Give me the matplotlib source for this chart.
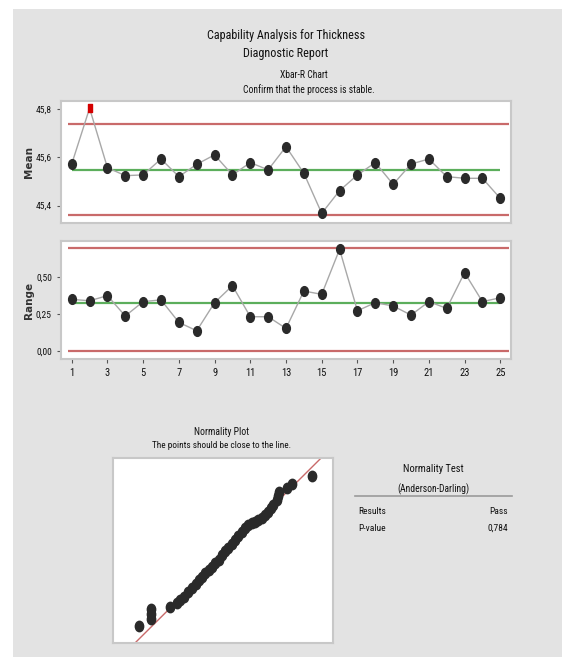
import matplotlib
matplotlib.use("Agg")
import matplotlib.pyplot as plt
from matplotlib.path import Path
from matplotlib.patches import Rectangle
from matplotlib.lines import Line2D

# subgroup data
subgroups = list(range(1, 26))
means = [45.572, 45.803, 45.557, 45.524, 45.527, 45.593, 45.520, 45.571, 45.610, 45.527,
         45.578, 45.548, 45.644, 45.534, 45.368, 45.462, 45.527, 45.578, 45.488, 45.572,
         45.593, 45.520, 45.513, 45.513, 45.430]
ranges = [0.348, 0.339, 0.373, 0.237, 0.333, 0.345, 0.194, 0.138, 0.326, 0.440,
          0.232, 0.232, 0.154, 0.404, 0.382, 0.683, 0.272, 0.326, 0.304, 0.243,
          0.333, 0.288, 0.527, 0.333, 0.359]
mean_cl, mean_ucl, mean_lcl = 45.548, 45.737, 45.360
range_cl, range_ucl, range_lcl = 0.326, 0.694, 0.0
out_of_control = [2]

# normality plot points (thickness, normal score)
norm_x = [45.142, 45.198, 45.198, 45.198, 45.285,
          45.316, 45.330, 45.346, 45.366, 45.384, 45.400, 45.415, 45.430, 45.445, 45.460,
          45.475, 45.490, 45.505, 45.520, 45.534, 45.549, 45.565, 45.580, 45.595, 45.610,
          45.625, 45.640, 45.655, 45.670, 45.685, 45.701, 45.716, 45.731, 45.743, 45.754,
          45.769, 45.776, 45.779, 45.815, 45.837, 45.931]
norm_z = [-2.45, -1.90, -2.06, -2.22, -1.84,
          -1.71, -1.61, -1.50, -1.36, -1.23, -1.09, -0.96, -0.85, -0.74, -0.63,
          -0.53, -0.42, -0.31, -0.15, -0.03, 0.07, 0.21, 0.34, 0.47, 0.61,
          0.72, 0.83, 0.88, 0.93, 0.99, 1.04, 1.15, 1.26, 1.38, 1.48,
          1.64, 1.77, 1.90, 2.02, 2.15, 2.43]
fit_mu, fit_sigma = 45.548, 0.141

test_rows = [("Results", "Pass"), ("P-value", "0,784")]

plt.rcParams["font.family"] = ["Roboto Condensed", "Liberation Sans Narrow", "DejaVu Sans"]

W, H = 562, 657
fig = plt.figure(figsize=(W / 100, H / 100), dpi=100)
fig.patch.set_facecolor("white")
fig.patches.append(Rectangle((13 / W, 0), 1, 1 - 9 / H, transform=fig.transFigure,
                             facecolor="#e3e3e3", edgecolor="none", zorder=-10))


def fx(px):
    return px / W


def fy(py):
    return 1 - py / H


def ax_rect(x0, y0, x1, y1):
    return [fx(x0), fy(y1), (x1 - x0) / W, (y1 - y0) / H]


circ = Path.unit_circle()
oval = Path(circ.vertices * [0.8, 1.0], circ.codes)
tall_sq = Path([(-0.32, -0.5), (0.32, -0.5), (0.32, 0.5), (-0.32, 0.5), (-0.32, -0.5)],
               [Path.MOVETO, Path.LINETO, Path.LINETO, Path.LINETO, Path.CLOSEPOLY])

txt = "#111111"
fig.text(fx(286), fy(35), "Capability Analysis for Thickness", ha="center", va="center",
         fontsize=8.7, color=txt)
fig.text(fx(286), fy(53), "Diagnostic Report", ha="center", va="center",
         fontsize=8.7, color=txt)
fig.text(fx(304), fy(75), "Xbar-R Chart", ha="center", va="center", fontsize=6.9, color=txt)
fig.text(fx(309), fy(90), "Confirm that the process is stable.", ha="center", va="center",
         fontsize=6.9, color=txt)


def style_axes(ax):
    for s in ax.spines.values():
        s.set_color("#c8c8c8")
        s.set_linewidth(1.5)
    ax.tick_params(colors="#555555", labelcolor=txt, length=3, width=0.8, labelsize=6.8)


red = "#c96a6a"
green = "#5cae5c"
dot = "#2a2a2a"
xmin, xmax = 0.4, 25.6

ax1 = fig.add_axes(ax_rect(61, 101, 511, 223))
ax1.hlines([mean_ucl, mean_lcl], 0.8, 25.5, color=red, lw=1.6)
ax1.hlines(mean_cl, 1, 25, color=green, lw=1.6)
ax1.plot(subgroups, means, color="#a8a8a8", lw=1, zorder=3)
ok = [i for i in subgroups if i not in out_of_control]
ax1.plot(ok, [means[i - 1] for i in ok], ls="none", marker=oval, ms=7,
         color=dot, zorder=4)
ax1.plot(out_of_control, [means[i - 1] for i in out_of_control], ls="none",
         marker=tall_sq, ms=5.5, color="#d40000", zorder=5)
ax1.set_xlim(xmin, xmax)
ax1.set_ylim(45.328, 45.833)
ax1.set_yticks([45.4, 45.6, 45.8])
ax1.set_yticklabels(["45,4", "45,6", "45,8"])
ax1.set_xticks([])
ax1.set_ylabel("Mean", family="DejaVu Sans", fontweight="bold", fontsize=7.5,
               color="#333333")
ax1.yaxis.set_label_coords(-0.06, 0.5)
style_axes(ax1)

ax2 = fig.add_axes(ax_rect(61, 241, 511, 359))
ax2.hlines([range_ucl, range_lcl], 0.8, 25.5, color=red, lw=1.6)
ax2.hlines(range_cl, 1, 25, color=green, lw=1.6)
ax2.plot(subgroups, ranges, color="#a8a8a8", lw=1, zorder=3)
ax2.plot(subgroups, ranges, ls="none", marker=oval, ms=7, color=dot, zorder=4)
ax2.set_xlim(xmin, xmax)
ax2.set_ylim(-0.051, 0.739)
ax2.set_yticks([0.0, 0.25, 0.5])
ax2.set_yticklabels(["0,00", "0,25", "0,50"])
ax2.set_xticks(subgroups[::2])
ax2.set_ylabel("Range", family="DejaVu Sans", fontweight="bold", fontsize=7.5,
               color="#333333")
ax2.yaxis.set_label_coords(-0.06, 0.5)
style_axes(ax2)
ax2.tick_params(axis="x", labelsize=7.6)

# normality plot
fig.text(fx(222), fy(432), "Normality Plot", ha="center", va="center", fontsize=7,
         color=txt)
fig.text(fx(222), fy(445), "The points should be close to the line.", ha="center",
         va="center", fontsize=6.7, color=txt)
ax3 = fig.add_axes(ax_rect(113, 458, 333, 643))
zs = [-3.5, 3.5]
ax3.plot([fit_mu + fit_sigma * z for z in zs], zs, color=red, lw=1)
ax3.plot(norm_x, norm_z, ls="none", marker=oval, ms=7.5, color=dot)
ax3.set_xlim(45.025, 46.025)
ax3.set_ylim(-3, 3)
ax3.set_xticks([])
ax3.set_yticks([])
style_axes(ax3)

# normality test summary
fig.text(fx(433), fy(469), "Normality Test", ha="center", va="center", fontsize=7.6,
         color=txt)
fig.text(fx(433), fy(489), "(Anderson-Darling)", ha="center", va="center", fontsize=6.9,
         color=txt)
fig.add_artist(Line2D([fx(355), fx(512)], [fy(495.5), fy(495.5)], color="#9a9a9a", lw=1.2,
                      transform=fig.transFigure))
for k, (label, value) in enumerate(test_rows):
    y = fy(512 + 16.5 * k)
    fig.text(fx(358), y, label, ha="left", va="center", fontsize=6.8, color=txt)
    fig.text(fx(508), y, value, ha="right", va="center", fontsize=6.8, color=txt)

fig.savefig("out.png", dpi=100)
